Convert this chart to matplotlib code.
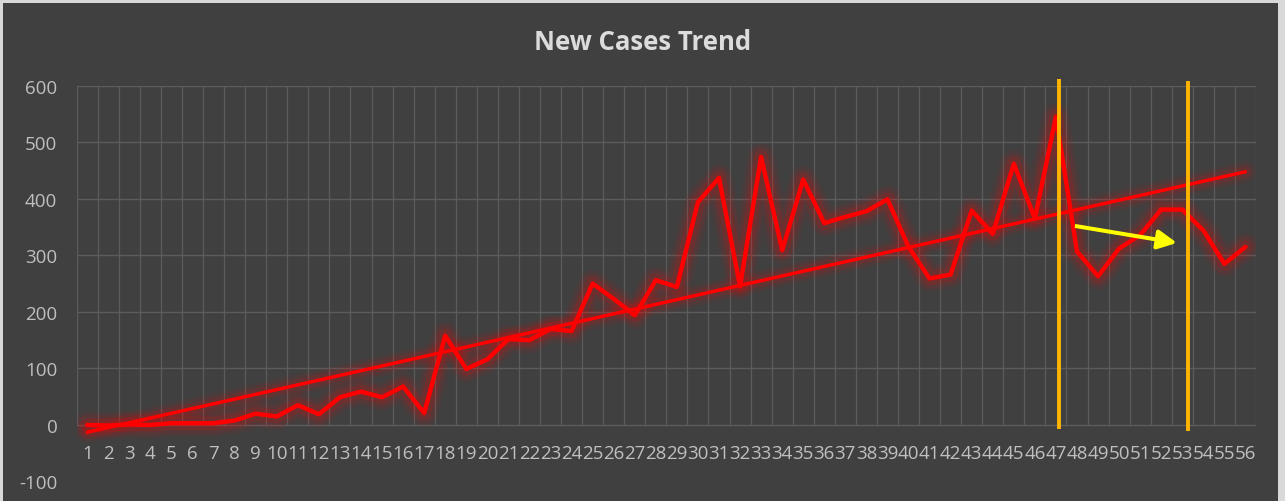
import numpy as np
import matplotlib
matplotlib.use("Agg")
import matplotlib.pyplot as plt
from matplotlib.patches import Rectangle, FancyArrowPatch

# ---- data ----
days = list(range(1, 57))
new_cases = [0, -1, 1, 0, 3, 3, 3, 8, 20, 15, 35, 19, 49, 59, 49, 68, 21,
             158, 99, 116, 152, 150, 170, 166, 250, 223, 194, 256, 244,
             394, 437, 245, 474, 309, 434, 357, 368, 378, 399, 315, 259,
             266, 379, 338, 462, 365, 545, 307, 263, 312, 336, 381, 381,
             344, 285, 315]
y_ticks = [-100, 0, 100, 200, 300, 400, 500, 600]
title = "New Cases Trend"

W, H = 1285, 502
fig = plt.figure(figsize=(W / 100, H / 100), dpi=100)
fig.patch.set_facecolor("#d9d9d9")
fig.patches.append(Rectangle((3 / W, 0), (1278 - 3) / W, (H - 4) / H,
                             transform=fig.transFigure, facecolor="#404040",
                             edgecolor="none", zorder=-10))

left, right = 76.7 / W, 1256 / W
bottom, top = (H - 482.5) / H, (H - 86.7) / H
ax = fig.add_axes([left, bottom, right - left, top - bottom])
ax.set_zorder(5)
ax.set_facecolor("none")
ax.set_xlim(0.5, len(days) + 0.5)
ax.set_ylim(-100, 600)
for s in ax.spines.values():
    s.set_visible(False)

grid_c = "#5c5c5c"
for v in y_ticks:
    if v >= 0:
        ax.axhline(v, color=grid_c, lw=1.0, zorder=1)
for b in np.arange(0.5, len(days) + 1, 1.0):
    ax.plot([b, b], [0, 600], color=grid_c, lw=0.9, zorder=1)

x = np.array(days, dtype=float)
y = np.array(new_cases, dtype=float)
slope, intercept = np.polyfit(x, y, 1)
trend = slope * x + intercept

# glow layers
for lw, a in [(20, 0.05), (15, 0.08), (10, 0.14)]:
    ax.plot(x, y, color="#ff0000", lw=lw, alpha=a, solid_joinstyle="round",
            solid_capstyle="round", zorder=2)
    ax.plot(x, trend, color="#ff0000", lw=lw * 0.8, alpha=a * 0.8,
            solid_capstyle="round", zorder=2)
ax.plot(x, trend, color="#ff0000", lw=2.5, zorder=3, solid_capstyle="round")
ax.plot(x, y, color="#ff0000", lw=3.2, zorder=4, solid_joinstyle="round",
        solid_capstyle="round")

# annotation lines (orange) and arrow (yellow)
ax.plot([47.16, 47.16], [-7, 612], color="#ffb400", lw=2.8, zorder=5,
        clip_on=False, solid_capstyle="butt")
ax.plot([53.27, 53.27], [-10, 609], color="#ffb400", lw=2.8, zorder=5,
        clip_on=False, solid_capstyle="butt")
arrow = FancyArrowPatch((47.9, 352), (52.75, 322),
                        arrowstyle="-|>,head_length=8,head_width=4",
                        mutation_scale=1.45, color="#ffff00", lw=2.9,
                        zorder=6, shrinkA=0, shrinkB=0, capstyle="butt")
ax.add_patch(arrow)

font = ["Open Sans", "DejaVu Sans"]
ax.set_yticks(y_ticks)
ax.set_yticklabels([str(v) for v in y_ticks], fontsize=13.5, color="#bfbfbf",
                   family=font)
ax.set_xticks(days)
ax.set_xticklabels([str(d) for d in days], fontsize=13.5, color="#bfbfbf",
                   family=font)
ax.tick_params(axis="y", length=0, pad=14)
ax.tick_params(axis="x", length=0, pad=-27)

fig.text(643 / W, 1 - 42 / H, title, ha="center", va="center", fontsize=18.5,
         fontweight="bold", color="#dcdcdc", family=font)

fig.savefig("out.png", dpi=100, facecolor=fig.get_facecolor())
